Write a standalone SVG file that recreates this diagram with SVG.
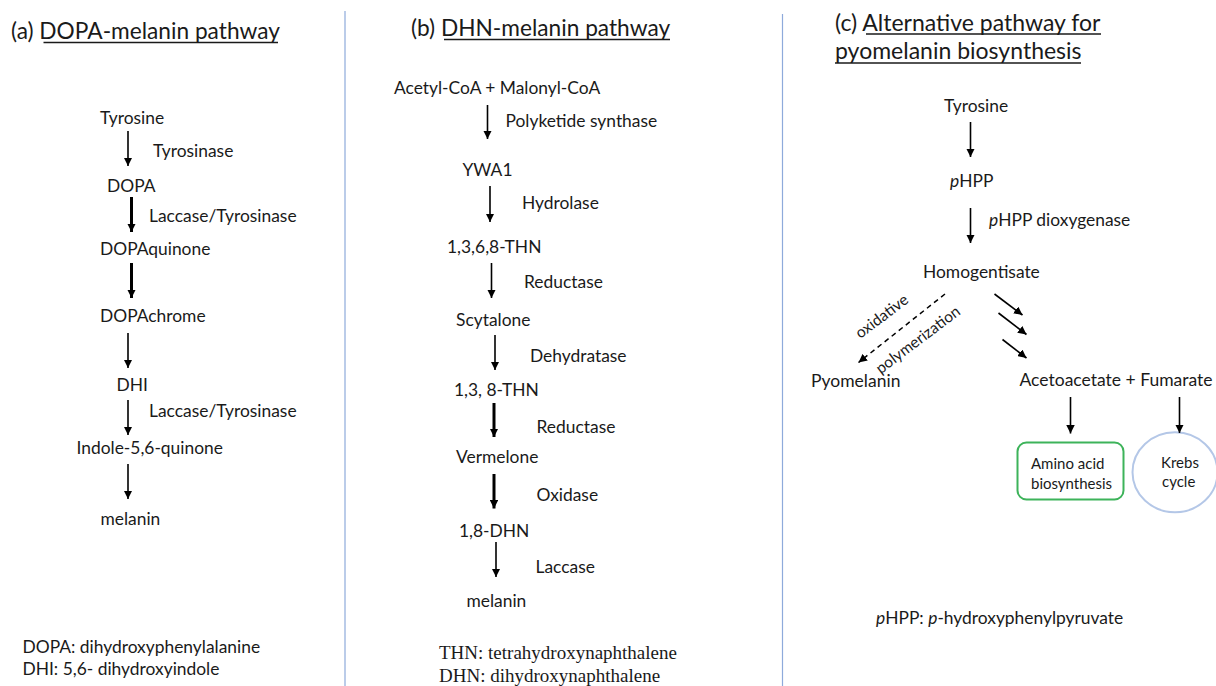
<svg xmlns="http://www.w3.org/2000/svg" width="1216" height="686" viewBox="0 0 1216 686">
<style>
text{font-family:Lato,"Liberation Sans",sans-serif;fill:#1a1a1a}
.t{font-size:22.7px}
.l{font-size:17.4px}
.m{font-size:17.5px}
.s{font-size:15px}
.r{font-size:15.5px}
.serif{font-family:"Liberation Serif",serif;font-size:19px}
.a{stroke:#000;stroke-width:1.6;fill:none;marker-end:url(#ah)}
.b{stroke:#000;stroke-width:3;fill:none;marker-end:url(#ah)}
.d{stroke:#000;stroke-width:1.5;fill:none;stroke-dasharray:5 4;marker-end:url(#ah)}
.u{stroke:#1a1a1a;stroke-width:1.3}
.div{stroke:#8eaadb;stroke-width:1.2}
</style>
<defs>
<marker id="ah" viewBox="0 0 10 10" refX="10" refY="5" markerUnits="userSpaceOnUse" markerWidth="8.5" markerHeight="8.5" orient="auto">
<path d="M0,0 L10,5 L0,10 z" fill="#000"/>
</marker>
</defs>
<rect width="1216" height="686" fill="#fff"/>
<g id="dividers">
<line class="div" x1="345" y1="11" x2="345" y2="686"/>
<line class="div" x1="782.5" y1="14" x2="782.5" y2="686"/>
</g>

<g id="panel-a">
<g id="a-title"><text class="t" x="11" y="39">(a) DOPA-melanin pathway</text><line class="u" x1="43.5" y1="42.5" x2="278" y2="42.5"/></g>
<g id="a-tyrosine"><text class="l" x="100" y="124">Tyrosine</text></g>
<g id="a-tyrosinase"><text class="l" x="153" y="157">Tyrosinase</text></g>
<g id="a-dopa"><text class="l" x="107" y="192">DOPA</text></g>
<g id="a-lt1"><text class="l" x="149" y="222">Laccase/Tyrosinase</text></g>
<g id="a-dopaquinone"><text class="l" x="100" y="255">DOPAquinone</text></g>
<g id="a-dopachrome"><text class="l" x="100" y="322">DOPAchrome</text></g>
<g id="a-dhi"><text class="l" x="116.5" y="391">DHI</text></g>
<g id="a-lt2"><text class="l" x="149" y="416.5">Laccase/Tyrosinase</text></g>
<g id="a-indole"><text class="l" x="76.5" y="454">Indole-5,6-quinone</text></g>
<g id="a-melanin"><text class="l" x="100.5" y="525">melanin</text></g>
<g id="a-legend"><text class="l" x="22.5" y="653">DOPA: dihydroxyphenylalanine</text><text class="l" x="22.5" y="675">DHI: 5,6- dihydroxyindole</text></g>
</g>

<g id="panel-b">
<g id="b-title"><text class="t" x="411" y="35.5">(b) DHN-melanin pathway</text><line class="u" x1="444" y1="39.5" x2="670" y2="39.5"/></g>
<g id="b-acetyl"><text class="l" x="394" y="94">Acetyl-CoA + Malonyl-CoA</text></g>
<g id="b-pks"><text class="l" x="505.5" y="126.5">Polyketide synthase</text></g>
<g id="b-ywa1"><text class="l" x="462.5" y="176">YWA1</text></g>
<g id="b-hydrolase"><text class="l" x="522" y="209">Hydrolase</text></g>
<g id="b-thn4"><text class="l" x="447" y="253">1,3,6,8-THN</text></g>
<g id="b-red1"><text class="l" x="524" y="288">Reductase</text></g>
<g id="b-scytalone"><text class="l" x="456" y="326">Scytalone</text></g>
<g id="b-dehydratase"><text class="l" x="530" y="361.5">Dehydratase</text></g>
<g id="b-thn3"><text class="l" x="454" y="396">1,3, 8-THN</text></g>
<g id="b-red2"><text class="l" x="536.5" y="433">Reductase</text></g>
<g id="b-vermelone"><text class="l" x="456" y="462.5">Vermelone</text></g>
<g id="b-oxidase"><text class="l" x="536.5" y="501">Oxidase</text></g>
<g id="b-dhn"><text class="l" x="459" y="536.5">1,8-DHN</text></g>
<g id="b-laccase"><text class="l" x="535.5" y="572.5">Laccase</text></g>
<g id="b-melanin"><text class="l" x="466.5" y="607">melanin</text></g>
<g id="b-legend"><text class="serif" x="439" y="659">THN: tetrahydroxynaphthalene</text><text class="serif" x="439" y="681.5">DHN: dihydroxynaphthalene</text></g>
</g>

<g id="panel-c">
<g id="c-title"><text class="t" x="835" y="30.5" style="font-size:23px">(c) Alternative pathway for</text><line class="u" x1="866" y1="34" x2="1101" y2="34"/>
<text class="t" x="835" y="59" style="font-size:23px">pyomelanin biosynthesis</text><line class="u" x1="835" y1="63" x2="1081" y2="63"/></g>
<g id="c-tyrosine"><text class="l" x="944" y="111.5">Tyrosine</text></g>
<g id="c-phpp"><text class="l" x="950" y="186.5"><tspan font-style="italic">p</tspan>HPP</text></g>
<g id="c-dioxygenase"><text class="l" x="989" y="226"><tspan font-style="italic">p</tspan>HPP dioxygenase</text></g>
<g id="c-homogentisate"><text class="l" x="923" y="278">Homogentisate</text></g>
<g id="c-oxidative"><text class="r" text-anchor="middle" transform="translate(885,320.5) rotate(-37)">oxidative</text></g>
<g id="c-polymerization"><text class="r" text-anchor="middle" transform="translate(921,344) rotate(-37)">polymerization</text></g>
<g id="c-pyomelanin"><text class="m" x="811" y="386.5">Pyomelanin</text></g>
<g id="c-acetoacetate"><text class="m" x="1019.5" y="386">Acetoacetate + Fumarate</text></g>
<g id="c-amino"><rect x="1017.5" y="442.5" width="106" height="57" rx="9" fill="none" stroke="#3db35a" stroke-width="2"/>
<text class="s" x="1031" y="468.5">Amino acid</text><text class="s" x="1031" y="488.5">biosynthesis</text></g>
<g id="c-krebs"><ellipse cx="1175" cy="472.3" rx="42.5" ry="40" fill="none" stroke="#b4c7e7" stroke-width="2"/>
<text class="s" x="1161" y="467.5">Krebs</text><text class="s" x="1162" y="487">cycle</text></g>
<g id="c-legend"><text class="l" x="876" y="624"><tspan font-style="italic">p</tspan>HPP: <tspan font-style="italic">p</tspan>-hydroxyphenylpyruvate</text></g>
</g>

<g id="connectors">
<line class="a" x1="128" y1="131" x2="128" y2="166"/>
<line class="b" x1="131.5" y1="197" x2="131.5" y2="232"/>
<line class="b" x1="131.5" y1="263" x2="131.5" y2="298"/>
<line class="a" x1="128" y1="333" x2="128" y2="368"/>
<line class="a" x1="128" y1="400" x2="128" y2="435"/>
<line class="a" x1="128" y1="464" x2="128" y2="499"/>

<line class="a" x1="487.5" y1="105" x2="487.5" y2="139"/>
<line class="a" x1="490" y1="186" x2="490" y2="222"/>
<line class="a" x1="491.5" y1="263" x2="491.5" y2="298"/>
<line class="a" x1="495" y1="335" x2="495" y2="370"/>
<line class="b" x1="494" y1="403" x2="494" y2="437"/>
<line class="b" x1="494" y1="474" x2="494" y2="508.5"/>
<line class="a" x1="496" y1="542" x2="496" y2="577"/>

<line class="a" x1="970.5" y1="122" x2="970.5" y2="157"/>
<line class="a" x1="970.5" y1="208" x2="970.5" y2="243"/>
<line class="d" x1="945" y1="294" x2="858.5" y2="362.5"/>
<line class="a" x1="994.5" y1="294" x2="1022.5" y2="315"/>
<line class="a" x1="998.5" y1="313" x2="1026.5" y2="334.5"/>
<line class="a" x1="1002.5" y1="339.5" x2="1026.5" y2="358"/>
<line class="a" x1="1070.5" y1="397" x2="1070.5" y2="433.5"/>
<line class="a" x1="1179.5" y1="397" x2="1179.5" y2="433"/>
</g>
</svg>
